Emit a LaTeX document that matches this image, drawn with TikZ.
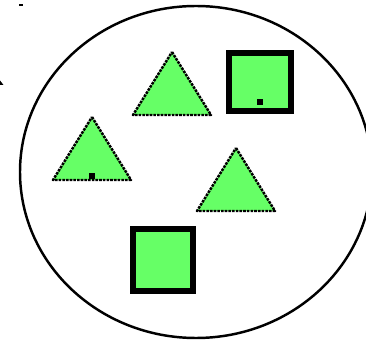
\documentclass[tikz,border=0pt]{standalone}
\usepackage{tikz}
\usetikzlibrary{calc}
\definecolor{shapegreen}{RGB}{102,255,102}

\begin{document}
\begin{tikzpicture}[x=0.02cm,y=-0.02cm,
    tri/.style={fill=shapegreen,draw=black,line width=1.4pt,dash pattern=on 1.5pt off 0.6pt,line join=round},
    box/.style={fill=shapegreen,draw=black,line width=3.5pt},
    speck/.style={fill=black}]
  \useasboundingbox (0,0) rectangle (366,341);
  \clip (0,0) rectangle (366,341);
  % the set
  \draw[line width=1.4pt] (196,172) ellipse (176 and 166);
  % triangles, given by their apex
  \foreach \ax/\ay [count=\i] in {172/52, 92/117, 236/148} {
    \draw[tri] (\ax,\ay) coordinate (apex\i) -- ++(39,63) -- ++(-78,0) -- cycle;
  }
  % squares
  \draw[box] (229,53) rectangle (291,111);
  \draw[box] (133,229) rectangle (193,291);
  % marked points
  \fill[speck] (89,173) rectangle (95,179);
  \fill[speck] (257,99) rectangle (263,105);
  % cut-off marks at the edge
  \fill[speck] (19.5,4) rectangle (23.5,6.5);
  \fill[speck] (0,80.5) -- (3.5,85) -- (0,85) -- cycle;
\end{tikzpicture}
\end{document}
